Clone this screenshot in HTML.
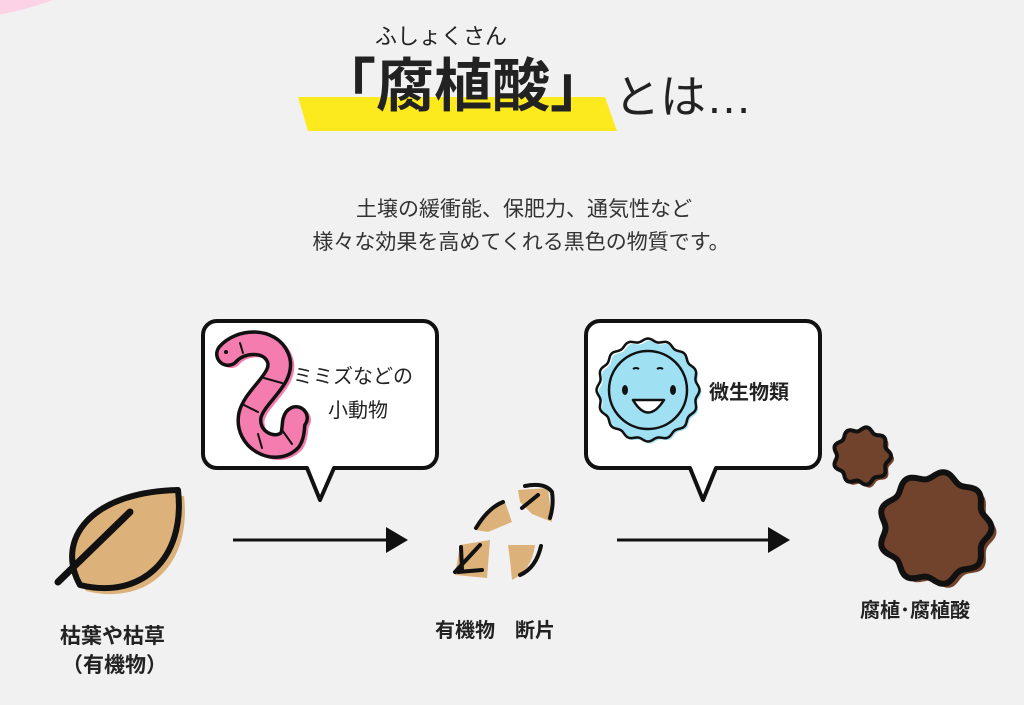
<!DOCTYPE html>
<html><head><meta charset="utf-8"><style>
html,body{margin:0;padding:0}
body{width:1024px;height:705px;background:#f1f1f1;position:relative;overflow:hidden;font-family:"Liberation Sans","Noto Sans CJK JP",sans-serif;color:#222}
.t{position:absolute;white-space:nowrap;line-height:1}
</style></head><body>
<svg width="1024" height="705" style="position:absolute;left:0;top:0">
  <ellipse cx="-60" cy="-150" rx="240" ry="170" fill="#fcd3e6"/>
  <polygon points="298,97 605,97 617,131 308,131" fill="#fcea1e"/>
  <path d="M217,321 H423 a14,14 0 0 1 14,14 V454 a14,14 0 0 1 -14,14 H334 L320,500 L307,468 H217 a14,14 0 0 1 -14,-14 V335 a14,14 0 0 1 14,-14 Z" fill="#fff" stroke="#111" stroke-width="4" stroke-linejoin="round"/>
  <path d="M600,321 H806 a14,14 0 0 1 14,14 V454 a14,14 0 0 1 -14,14 H716 L703,500 L690,468 H600 a14,14 0 0 1 -14,-14 V335 a14,14 0 0 1 14,-14 Z" fill="#fff" stroke="#111" stroke-width="4" stroke-linejoin="round"/>
  <line x1="233" y1="540" x2="390" y2="540" stroke="#111" stroke-width="3"/>
  <polygon points="386,527 408,540 386,553" fill="#111"/>
  <line x1="617" y1="540" x2="772" y2="540" stroke="#111" stroke-width="3"/>
  <polygon points="768,527 790,540 768,553" fill="#111"/>
  <g stroke-linecap="round" stroke-linejoin="round">
    <path d="M228,354 C240,340 270,338 278,358 C286,378 255,395 250,415 C245,440 275,455 290,440 C295,432 292,420 296,418" fill="none" stroke="#f47cae" stroke-width="24" transform="translate(3,2)"/>
    <path d="M228,354 C240,340 270,338 278,358 C286,378 255,395 250,415 C245,440 275,455 290,440 C295,432 292,420 296,418" fill="none" stroke="#111" stroke-width="26"/>
    <path d="M228,354 C240,340 270,338 278,358 C286,378 255,395 250,415 C245,440 275,455 290,440 C295,432 292,420 296,418" fill="none" stroke="#f47cae" stroke-width="19"/>
    <circle cx="226" cy="352" r="2" fill="#111"/>
    <g stroke="#111" stroke-width="2">
      <line x1="240" y1="343" x2="243" y2="353"/><line x1="264" y1="378" x2="282" y2="383"/>
      <line x1="242" y1="404" x2="258" y2="412"/><line x1="258" y1="434" x2="262" y2="448"/><line x1="282" y1="430" x2="292" y2="444"/>
    </g>
  </g>
  <g id="mic">
    <path id="m1" fill="#9fe0f2" transform="translate(2,2)"/>
    <path id="m2" fill="none" stroke="#111" stroke-width="2.5"/>
    <circle cx="648" cy="390" r="39" fill="#9fe0f2" stroke="#111" stroke-width="2.5"/>
    <ellipse cx="625" cy="390" rx="3" ry="5" fill="#111"/>
    <ellipse cx="673" cy="390" rx="3" ry="5" fill="#111"/>
    <path d="M633,369 q3,-2 6,0 M657,369 q3,-2 6,0" stroke="#111" stroke-width="2" fill="none"/>
    <path d="M633,400 Q648,425 664,400 Z" fill="#fff" stroke="#111" stroke-width="2.5" stroke-linejoin="round"/>
  </g>
  <g stroke-linecap="round" stroke-linejoin="round">
    <path d="M80,585 C55,540 90,492 178,490 C186,560 140,600 80,585 Z" fill="#dcb27a" transform="translate(6,6)"/>
    <path d="M80,585 C55,540 90,492 178,490 C186,560 140,600 80,585 Z" fill="#dcb27a" stroke="#111" stroke-width="6"/>
    <path d="M58,582 L130,512" stroke="#111" stroke-width="7" fill="none"/>
  </g>
  <g stroke-linecap="round" fill="#dcb27a">
    <path d="M455,575 L460,545 L490,540 L487,578 Z"/>
    <path d="M455,572 L480,545 M461,547 L462,570 M458,572 L482,570" stroke="#111" stroke-width="4" fill="none"/>
    <path d="M476,530 Q488,508 505,502 L512,522 L488,532 Z"/>
    <path d="M476,528 Q488,508 503,502" stroke="#111" stroke-width="4" fill="none"/>
    <path d="M518,490 L548,488 L552,522 L532,514 L520,502 Z"/>
    <path d="M525,486 Q545,482 552,492 Q554,505 550,518 M522,508 L538,495" stroke="#111" stroke-width="4" fill="none"/>
    <path d="M508,545 L535,545 Q532,570 512,580 L510,560 Z"/>
    <path d="M541,546 Q536,568 520,575" stroke="#111" stroke-width="4" fill="none"/>
  </g>
  <g stroke-linejoin="round">
    <path id="b1" fill="#72432c" transform="translate(3,3)"/>
    <path id="b2" fill="#72432c" stroke="#111" stroke-width="4"/>
    <path id="b3" fill="#72432c" transform="translate(5,4)"/>
    <path id="b4" fill="#72432c" stroke="#111" stroke-width="6"/>
  </g>
</svg>
<script>
function wavy(cx,cy,r,a,n){let d="";for(let i=0;i<=360;i++){const t=i*Math.PI/180;const rr=r+a*Math.cos(n*t);d+=(i?"L":"M")+(cx+rr*Math.cos(t)).toFixed(1)+","+(cy+rr*Math.sin(t)).toFixed(1);}return d+"Z";}
document.getElementById("m1").setAttribute("d",wavy(648,390,50,1.5,16));
document.getElementById("m2").setAttribute("d",wavy(648,390,50,1.5,16));
document.getElementById("b1").setAttribute("d",wavy(862,456,27,2,9));
document.getElementById("b2").setAttribute("d",wavy(862,456,27,2,9));
document.getElementById("b3").setAttribute("d",wavy(935,528,53,3.5,9));
document.getElementById("b4").setAttribute("d",wavy(935,528,53,3.5,9));
</script>
<div class="t" style="left:375px;top:26px;font-size:22px">ふしょくさん</div>
<div class="t" style="left:318px;top:58px;font-size:58px;font-weight:bold;letter-spacing:0px">「腐植酸」</div>
<div class="t" style="left:614px;top:74px;font-size:46px">とは…</div>
<div class="t" style="left:0;width:1048px;text-align:center;top:199px;font-size:21px;color:#333">土壌の緩衝能、保肥力、通気性など</div>
<div class="t" style="left:0;width:1042px;text-align:center;top:232px;font-size:21px;color:#333">様々な効果を高めてくれる黒色の物質です。</div>
<div class="t" style="left:293px;top:367px;font-size:20px">ミミズなどの</div>
<div class="t" style="left:328px;top:401px;font-size:20px">小動物</div>
<div class="t" style="left:709px;top:383px;font-size:20px;font-weight:bold">微生物類</div>
<div class="t" style="left:60px;top:626px;font-size:21px;font-weight:bold">枯葉や枯草</div>
<div class="t" style="left:62px;top:655px;font-size:21px;font-weight:bold">（有機物）</div>
<div class="t" style="left:435px;top:621px;font-size:20px;font-weight:bold">有機物　断片</div>
<div class="t" style="left:860px;top:601px;font-size:20px;font-weight:bold">腐植･腐植酸</div>
</body></html>
